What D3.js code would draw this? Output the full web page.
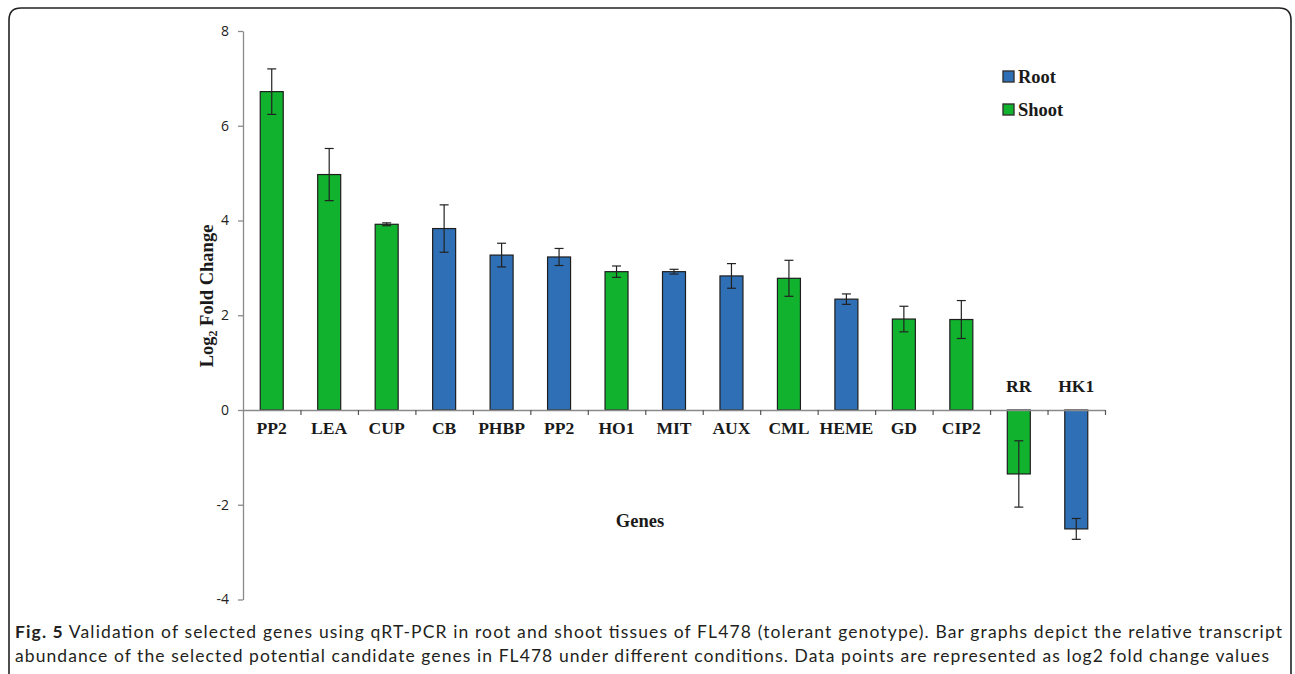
<!DOCTYPE html>
<html>
<head>
<meta charset="utf-8">
<script src="https://cdn.jsdelivr.net/npm/d3@7"></script>
<style>
  html, body { margin: 0; padding: 0; background: #fff; }
  svg { display: block; }
</style>
</head>
<body>
<svg id="chart" width="1295" height="674"></svg>
<script>
// ---- data ----
const genes   = ["PP2", "LEA", "CUP", "CB", "PHBP", "PP2", "HO1", "MIT", "AUX", "CML", "HEME", "GD", "CIP2", "RR", "HK1"];
const tissue  = ["Shoot", "Shoot", "Shoot", "Root", "Root", "Root", "Shoot", "Root", "Root", "Shoot", "Root", "Shoot", "Shoot", "Shoot", "Root"];
const values  = [6.72, 4.97, 3.92, 3.83, 3.27, 3.23, 2.92, 2.92, 2.83, 2.78, 2.34, 1.92, 1.91, -1.35, -2.51];
const errors  = [0.48, 0.55, 0.03, 0.50, 0.25, 0.18, 0.12, 0.05, 0.26, 0.38, 0.11, 0.27, 0.40, 0.70, 0.22];
const yTicks  = [-4, -2, 0, 2, 4, 6, 8];
const legendItems = ["Root", "Shoot"];
const colors  = { Root: "#2f6fb6", Shoot: "#11b22e" };

(function () {
const svg = d3.select("#chart");

// frame
svg.append("path")
  .attr("d", "M9,690 L9,20 Q9,8 21,8 L1279,8 Q1291,8 1291,20 L1291,690")
  .attr("fill", "none").attr("stroke", "#222").attr("stroke-width", 1.6);

const pLeft = 243, pRight = 1105, pTop = 31, pBottom = 599.5;
const idx = d3.range(genes.length);
const x = d3.scaleBand().domain(idx).range([pLeft, pRight]).padding(0);
const xb = d3.scaleLinear().domain([0, genes.length]).range([pLeft, pRight]);
const y = d3.scaleLinear().domain([-4, 8]).range([pBottom, pTop]);

const serif = "'Liberation Serif', 'Times New Roman', serif";
const sans = "'Open Sans', 'Noto Sans', sans-serif";

// y axis
const yAxis = svg.append("g").attr("transform", `translate(${pLeft},0)`)
  .call(d3.axisLeft(y).tickValues(yTicks).tickSize(5).tickSizeOuter(0).tickPadding(9)
    .tickFormat(d => String(d)));
yAxis.select(".domain").attr("stroke", "#8a8a8a").attr("stroke-width", 1.3);
yAxis.selectAll(".tick line").attr("stroke", "#8a8a8a").attr("stroke-width", 1.3);
yAxis.selectAll(".tick text").attr("font-family", sans).attr("font-size", 14).attr("fill", "#222");

// bars
const bw = x.bandwidth() * 0.4;
svg.append("g").selectAll("rect").data(idx).join("rect")
  .attr("x", i => x(i) + (x.bandwidth() - bw) / 2)
  .attr("width", bw)
  .attr("y", i => y(Math.max(0, values[i])))
  .attr("height", i => Math.abs(y(values[i]) - y(0)))
  .attr("fill", i => colors[tissue[i]])
  .attr("stroke", "#1e1e1e").attr("stroke-width", 1.2);

// x axis (drawn over bars)
const xAxis = svg.append("g").attr("transform", `translate(0,${y(0)})`)
  .call(d3.axisBottom(xb).tickValues(d3.range(1, genes.length + 1)).tickSize(5).tickSizeOuter(0).tickFormat(""));
xAxis.select(".domain").attr("stroke", "#8a8a8a").attr("stroke-width", 1.6);
xAxis.selectAll(".tick line").attr("stroke", "#555").attr("stroke-width", 1.2);

// error bars
const eg = svg.append("g").attr("stroke", "#222").attr("stroke-width", 1.2);
idx.forEach(i => {
  const cx = x(i) + x.bandwidth() / 2;
  const y1 = y(values[i] + errors[i]), y2 = y(values[i] - errors[i]);
  eg.append("line").attr("x1", cx).attr("x2", cx).attr("y1", y1).attr("y2", y2);
  eg.append("line").attr("x1", cx - 4.5).attr("x2", cx + 4.5).attr("y1", y1).attr("y2", y1);
  eg.append("line").attr("x1", cx - 4.5).attr("x2", cx + 4.5).attr("y1", y2).attr("y2", y2);
});

// category labels
svg.append("g").selectAll("text").data(idx).join("text")
  .attr("x", i => x(i) + x.bandwidth() / 2)
  .attr("y", i => values[i] >= 0 ? y(0) + 24 : y(0) - 18)
  .attr("text-anchor", "middle")
  .attr("font-family", serif).attr("font-weight", "bold").attr("font-size", 17.6)
  .attr("fill", "#1a1a1a")
  .text(i => genes[i]);

// y label
const yl = svg.append("text")
  .attr("transform", "translate(213,296) rotate(-90)")
  .attr("text-anchor", "middle")
  .attr("font-family", serif).attr("font-weight", "bold").attr("font-size", 18.5).attr("fill", "#1a1a1a");
yl.append("tspan").text("Log");
yl.append("tspan").attr("font-size", 12).attr("dy", 4).text("2");
yl.append("tspan").attr("dy", -4).text(" Fold Change");

// x label
svg.append("text").attr("x", 640).attr("y", 527).attr("text-anchor", "middle")
  .attr("font-family", serif).attr("font-weight", "bold").attr("font-size", 18.5).attr("fill", "#1a1a1a")
  .text("Genes");

// legend
const lg = svg.append("g");
legendItems.forEach((k, j) => {
  const ly = 71 + j * 33;
  lg.append("rect").attr("x", 1003).attr("y", ly).attr("width", 11).attr("height", 11)
    .attr("fill", colors[k]).attr("stroke", "#333").attr("stroke-width", 1.4);
  lg.append("text").attr("x", 1018).attr("y", ly + 11.5)
    .attr("font-family", serif).attr("font-weight", "bold").attr("font-size", 18.5).attr("fill", "#1a1a1a")
    .text(k);
});

// caption
const cap = "'Lato', 'Open Sans', sans-serif";
const c1 = svg.append("text").attr("x", 15).attr("y", 638)
  .attr("font-family", cap).attr("font-size", 17.5).attr("fill", "#231f20")
  .attr("textLength", 1267).attr("lengthAdjust", "spacing");
c1.append("tspan").attr("font-weight", "bold").text("Fig. 5");
c1.append("tspan").text(" Validation of selected genes using qRT-PCR in root and shoot tissues of FL478 (tolerant genotype). Bar graphs depict the relative transcript");
svg.append("text").attr("x", 15).attr("y", 662)
  .attr("font-family", cap).attr("font-size", 17.5).attr("fill", "#231f20")
  .attr("textLength", 1254).attr("lengthAdjust", "spacing")
  .text("abundance of the selected potential candidate genes in FL478 under different conditions. Data points are represented as log2 fold change values");
})();
</script>
</body>
</html>
